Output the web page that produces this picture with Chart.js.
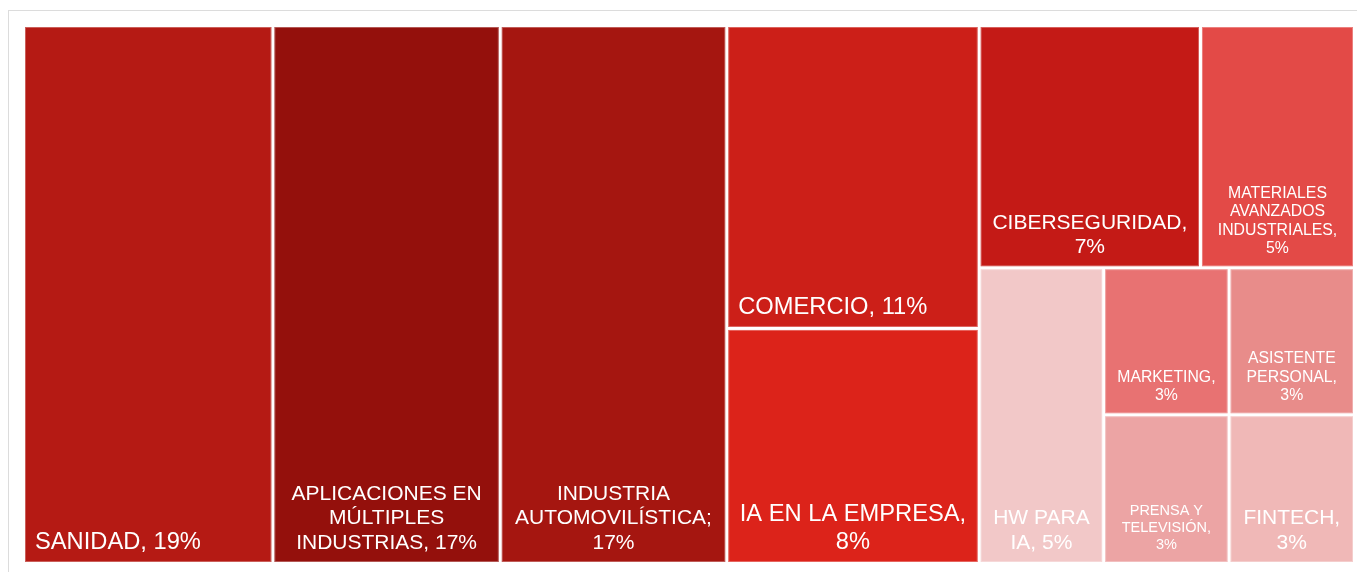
<!DOCTYPE html>
<html>
<head>
<meta charset="utf-8">
<script src="https://cdn.jsdelivr.net/npm/chart.js@4/dist/chart.umd.min.js"></script>
<style>
  body { margin: 0; background: #fff; }
  #frame { position: absolute; left: 8px; top: 10px; width: 1400px; height: 600px;
           border-left: 1px solid #dcdcdc; border-top: 1px solid #dcdcdc; }
  #wrap { position: absolute; left: 0; top: 0; width: 1357px; height: 572px; }
</style>
</head>
<body>
<div id="frame"></div>
<div id="wrap"><canvas id="myChart"></canvas></div>
<script>
// sectors, share of total (%), read from tile areas
const sectors = [
  'SANIDAD', 'APLICACIONES EN MÚLTIPLES INDUSTRIAS', 'INDUSTRIA AUTOMOVILÍSTICA',
  'COMERCIO', 'IA EN LA EMPRESA', 'CIBERSEGURIDAD', 'MATERIALES AVANZADOS INDUSTRIALES',
  'HW PARA IA', 'MARKETING', 'ASISTENTE PERSONAL', 'PRENSA Y TELEVISIÓN', 'FINTECH'
];
const shares = [18.7, 17.05, 16.98, 10.66, 8.27, 7.47, 5.2, 5.13, 2.57, 2.57, 2.6, 2.6];
const tileLabels = [
  ['SANIDAD, 19%'],
  ['APLICACIONES EN', 'MÚLTIPLES', 'INDUSTRIAS, 17%'],
  ['INDUSTRIA', 'AUTOMOVILÍSTICA;', '17%'],
  ['COMERCIO, 11%'],
  ['IA EN LA EMPRESA,', '8%'],
  ['CIBERSEGURIDAD,', '7%'],
  ['MATERIALES', 'AVANZADOS', 'INDUSTRIALES,', '5%'],
  ['HW PARA', 'IA, 5%'],
  ['MARKETING,', '3%'],
  ['ASISTENTE', 'PERSONAL,', '3%'],
  ['PRENSA Y', 'TELEVISIÓN,', '3%'],
  ['FINTECH,', '3%']
];

// how many tiles go in each strip of the treemap
const stripCounts = [1, 1, 1, 2, 2, 1, 2, 1, 1];

const colors = ['#b51a14', '#94100c', '#a51610', '#cc1f18', '#dc231a', '#c41a16',
                '#e34a47', '#f2c8c8', '#e87272', '#e88c8a', '#eca4a4', '#f0b8b7'];
const fontSizes = [23.7, 21, 21, 23.7, 23.7, 21, 15.8, 21, 15.8, 15.8, 14.5, 21];

function sum(a) { return a.reduce((s, v) => s + v, 0); }

// strip layout, result in fractions of the area (0..1)
function layoutStrips(vals, counts, W, H) {
  let x = 0, y = 0, w = W, h = H, i = 0, rem = sum(vals);
  const out = [];
  counts.forEach(n => {
    const group = vals.slice(i, i + n);
    const gsum = sum(group);
    if (w >= h) {
      const cw = w * gsum / rem;
      let yy = y;
      group.forEach(v => {
        const hh = h * v / gsum;
        out.push({x0: x / W, y0: yy / H, x1: (x + cw) / W, y1: (yy + hh) / H});
        yy += hh;
      });
      x += cw; w -= cw;
    } else {
      const rh = h * gsum / rem;
      let xx = x;
      group.forEach(v => {
        const ww = w * v / gsum;
        out.push({x0: xx / W, y0: y / H, x1: (xx + ww) / W, y1: (y + rh) / H});
        xx += ww;
      });
      y += rh; h -= rh;
    }
    rem -= gsum; i += n;
  });
  return out;
}

const treemapPlugin = {
  id: 'treemapTiles',
  afterDatasetsDraw(chart) {
    const {ctx, chartArea, scales} = chart;
    const sx = scales.x, sy = scales.y;
    const rects = layoutStrips(shares, stripCounts, chartArea.width, chartArea.height);
    ctx.save();
    rects.forEach((r, i) => {
      const left = sx.getPixelForValue(r.x0 * 100) + 1.5;
      const right = sx.getPixelForValue(r.x1 * 100) - 1.5;
      const top = sy.getPixelForValue(r.y0 * 100) + 1.5;
      const bottom = sy.getPixelForValue(r.y1 * 100) - 1.5;
      ctx.fillStyle = colors[i];
      ctx.fillRect(left, top, right - left, bottom - top);
      ctx.strokeStyle = 'rgba(255,255,255,0.3)';
      ctx.lineWidth = 1;
      ctx.strokeRect(left + 0.5, top + 0.5, right - left - 1, bottom - top - 1);

      const lines = tileLabels[i];
      const fs = fontSizes[i];
      const lh = fs * 1.17;
      ctx.fillStyle = '#ffffff';
      ctx.font = fs + 'px "Liberation Sans", Arial, sans-serif';
      ctx.textBaseline = 'alphabetic';
      let base = bottom - 13 - (lines.length - 1) * lh;
      lines.forEach(t => {
        if (lines.length === 1) {
          ctx.textAlign = 'left';
          ctx.fillText(t, left + 10, base);
        } else {
          ctx.textAlign = 'center';
          ctx.fillText(t, (left + right) / 2, base);
        }
        base += lh;
      });
    });
    ctx.restore();
  }
};

const config = {
  type: 'scatter',
  data: {
    labels: sectors,
    datasets: [{ label: 'Sectores', data: [], pointRadius: 0 }]
  },
  options: {
    responsive: true,
    maintainAspectRatio: false,
    animation: false,
    layout: { padding: { left: 23.5, top: 25.5, right: 2.5, bottom: 8.5 } },
    scales: {
      x: { type: 'linear', min: 0, max: 100, display: false },
      y: { type: 'linear', min: 0, max: 100, reverse: true, display: false }
    },
    plugins: { legend: { display: false }, tooltip: { enabled: false } }
  },
  plugins: [treemapPlugin]
};

const myChart = new Chart(document.getElementById('myChart'), config);
</script>
</body>
</html>
